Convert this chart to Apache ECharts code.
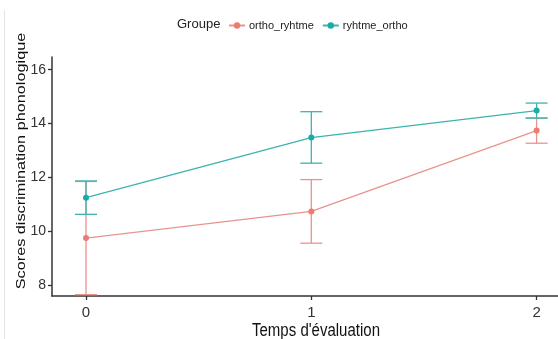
<!DOCTYPE html>
<html>
<head>
<meta charset="utf-8">
<script src="https://cdn.jsdelivr.net/npm/echarts@6/dist/echarts.min.js"></script>
<style>html,body{margin:0;padding:0;background:#fff}#c{width:558px;height:339px}</style>
</head>
<body>
<div id="c"></div>
<script>
var times = [0, 1, 2];
var orthoMean = [9.75, 10.74, 13.74];
var orthoLow  = [7.65, 9.56, 13.27];
var orthoHigh = [11.85, 11.92, 14.21];
var rythMean = [11.25, 13.48, 14.48];
var rythLow  = [10.63, 12.53, 14.20];
var rythHigh = [11.87, 14.44, 14.76];
var yTicks = [8, 10, 12, 14, 16];
var xTicks = [0, 1, 2];
var groupNames = ['ortho_ryhtme', 'ryhtme_ortho'];
var xTitle = "Temps d'évaluation";
var yTitle = 'Scores discrimination phonologique';
var legendTitle = 'Groupe';

var redLine = '#E8948E', redDot = '#EC7B74';
var tealLine = '#3DB3AE', tealDot = '#1AADA7';

function pairs(xs, ys){ return xs.map(function(x,i){return [x, ys[i]];}); }
function bars(xs, lo, hi){ return xs.map(function(x,i){return [x, lo[i], hi[i]];}); }

function errRender(color){
  return function(params, api){
    var x = api.value(0);
    var pLo = api.coord([x, api.value(1)]);
    var pHi = api.coord([x, api.value(2)]);
    var hw = 11;
    var st = {stroke: color, lineWidth: 1.3};
    return {type:'group', children:[
      {type:'line', shape:{x1:pLo[0], y1:pLo[1], x2:pHi[0], y2:pHi[1]}, style:st},
      {type:'line', shape:{x1:pHi[0]-hw, y1:pHi[1], x2:pHi[0]+hw, y2:pHi[1]}, style:st},
      {type:'line', shape:{x1:pLo[0]-hw, y1:pLo[1], x2:pLo[0]+hw, y2:pLo[1]}, style:st}
    ]};
  };
}

var chart = echarts.init(document.getElementById('c'), null, {renderer:'canvas'});
var axisCol = '#333333';
chart.setOption({
  animation: false,
  backgroundColor: '#ffffff',
  title: {text:legendTitle, left:172, top:13, textStyle:{fontFamily:'Liberation Sans', fontSize:13, fontWeight:'normal', color:'#222'}},
  legend: {
    left: 223, top: 15, itemWidth: 16, itemHeight: 8, itemGap: 8,
    textStyle:{fontFamily:'Liberation Sans', fontSize:11, color:'#222', padding:[0,0,0,-1]},
    data: groupNames
  },
  graphic: [
    {type:'line', shape:{x1:4.5, y1:10, x2:4.5, y2:339}, style:{stroke:'#e4e4e4', lineWidth:1}},
    {type:'text', x:316, y:331, scaleY:1.25, style:{text:xTitle, font:'15px "Liberation Sans"', fill:'#111', textAlign:'center', textVerticalAlign:'middle'}},
    {type:'text', x:21, y:161, rotation:Math.PI/2, scaleX:1.25, style:{text:yTitle, font:'13px "Liberation Sans"', fill:'#111', textAlign:'center', textVerticalAlign:'middle'}}
  ],
  grid: {left:52, right:0, top:57, bottom:43},
  xAxis: {
    type:'value', min:-0.151, max:2.095,
    axisLine:{show:true, onZero:false, lineStyle:{color:axisCol, width:1.5}},
    axisTick:{show:true, customValues:xTicks, length:4, lineStyle:{color:axisCol, width:1.3}},
    axisLabel:{customValues:xTicks, fontFamily:'Liberation Sans', fontSize:15, color:'#333', margin:9},
    splitLine:{show:false}
  },
  yAxis: {
    type:'value', min:7.6, max:16.47,
    axisLine:{show:true, onZero:false, lineStyle:{color:axisCol, width:1.5}},
    axisTick:{show:true, customValues:yTicks, length:4, lineStyle:{color:axisCol, width:1.3}},
    axisLabel:{customValues:yTicks, fontFamily:'Liberation Sans', fontSize:14, color:'#333', margin:6},
    splitLine:{show:false}
  },
  series: [
    {type:'custom', name:'err_ortho', renderItem: errRender(redLine), data: bars(times, orthoLow, orthoHigh), z:2, silent:true},
    {type:'line', name:groupNames[0], data: pairs(times, orthoMean), symbol:'circle', symbolSize:6,
      lineStyle:{color:redLine, width:1.3}, itemStyle:{color:redDot}, z:3},
    {type:'custom', name:'err_ryth', renderItem: errRender(tealLine), data: bars(times, rythLow, rythHigh), z:4, silent:true},
    {type:'line', name:groupNames[1], data: pairs(times, rythMean), symbol:'circle', symbolSize:6,
      lineStyle:{color:tealLine, width:1.3}, itemStyle:{color:tealDot}, z:5}
  ]
});
</script>
</body>
</html>
